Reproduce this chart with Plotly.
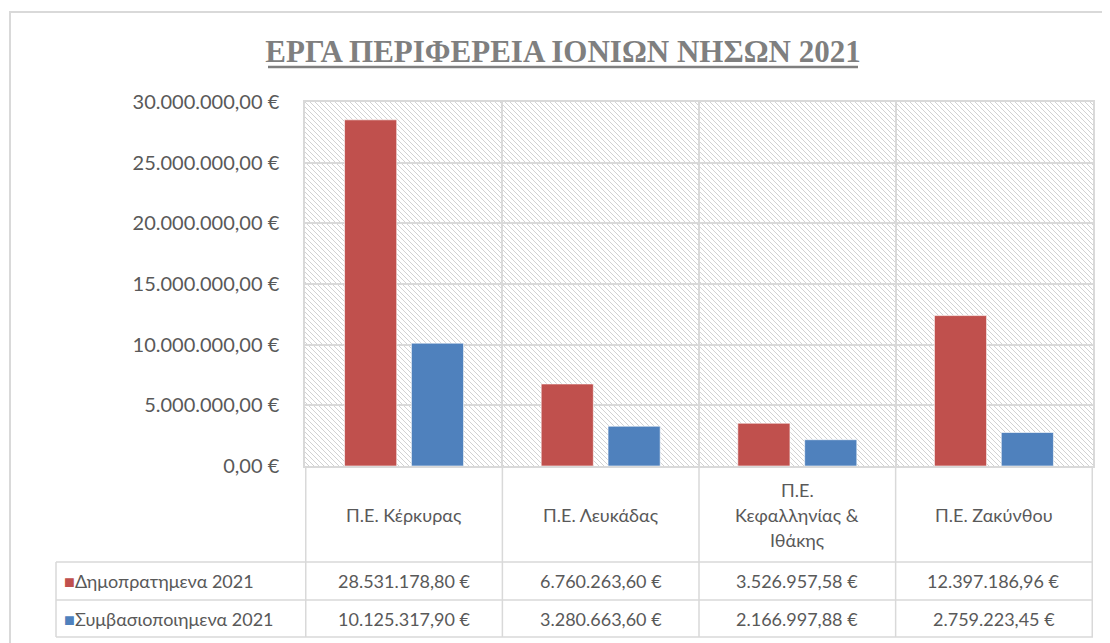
import base64

import plotly.graph_objects as go

categories = ["Π.Ε. Κέρκυρας", "Π.Ε. Λευκάδας", "Π.Ε. Κεφαλληνίας & Ιθάκης", "Π.Ε. Ζακύνθου"]
category_labels = ["Π.Ε. Κέρκυρας", "Π.Ε. Λευκάδας", "Π.Ε.<br>Κεφαλληνίας &<br>Ιθάκης", "Π.Ε. Ζακύνθου"]
series_names = ["Δημοπρατημενα 2021", "Συμβασιοποιημενα 2021"]
auctioned = [28531178.80, 6760263.60, 3526957.58, 12397186.96]
contracted = [10125317.90, 3280663.60, 2166997.88, 2759223.45]
series_colors = ["#C0504D", "#4F81BD"]

TITLE = "ΕΡΓΑ ΠΕΡΙΦΕΡΕΙΑ ΙΟΝΙΩΝ ΝΗΣΩΝ 2021"
W, H = 1110, 643
OFF = 8  # page body margin
PLOT_L, PLOT_R, PLOT_T, PLOT_B = 305 - OFF, 1093 - OFF, 102 - OFF, 466 - OFF
GRID = "#D9D9D9"
TEXT = "#595959"
FONT = "Lato"


def px_x(x):
    return (x - OFF - PLOT_L) / (PLOT_R - PLOT_L)


def px_y(y):
    return (PLOT_B - (y - OFF)) / (PLOT_B - PLOT_T)


def euro(v):
    s = f"{v:,.2f}".replace(",", "X").replace(".", ",").replace("X", ".")
    return s + " €"


# hatched plot background (Excel "light downward diagonal")
hatch_svg = (
    '<svg xmlns="http://www.w3.org/2000/svg" width="788" height="364">'
    '<defs><pattern id="h" patternUnits="userSpaceOnUse" width="5" height="5">'
    '<rect width="5" height="5" fill="#ffffff"/>'
    '<path d="M0,0 L5,5 M-1,4 L1,6 M4,-1 L6,1" stroke="#D2D2D2" stroke-width="1"/>'
    '</pattern></defs><rect width="788" height="364" fill="url(#h)"/></svg>'
)
hatch_uri = "data:image/svg+xml;base64," + base64.b64encode(hatch_svg.encode()).decode()

fig = go.Figure()
for name, vals, color in zip(series_names, [auctioned, contracted], series_colors):
    fig.add_trace(
        go.Bar(
            x=categories,
            y=vals,
            name=name,
            marker=dict(color=color, line=dict(color="rgba(255,255,255,0.6)", width=1)),
        )
    )

shapes = []
line = dict(color=GRID, width=1.5)
# outer chart border
shapes.append(dict(type="rect", xref="paper", yref="paper",
                   x0=px_x(10), x1=px_x(1130), y0=px_y(12), y1=px_y(660),
                   line=dict(color=GRID, width=2), layer="below"))
# title underline
shapes.append(dict(type="line", xref="paper", yref="paper",
                   x0=px_x(268), x1=px_x(858), y0=px_y(67), y1=px_y(67),
                   line=dict(color="#7F7F7F", width=2.5)))
# data table: vertical lines at category boundaries
for i in range(len(categories) + 1):
    shapes.append(dict(type="line", xref="x", yref="paper",
                       x0=i - 0.5, x1=i - 0.5, y0=px_y(466), y1=px_y(637), line=line))
# left border of legend column
shapes.append(dict(type="line", xref="paper", yref="paper",
                   x0=px_x(56), x1=px_x(56), y0=px_y(562), y1=px_y(637), line=line))
for yy in (562, 600, 637):
    shapes.append(dict(type="line", xref="paper", yref="paper",
                       x0=px_x(56), x1=px_x(1093), y0=px_y(yy), y1=px_y(yy), line=line))

annotations = []
cell_font = dict(family=FONT, size=18, color=TEXT)
# header row: category labels
for cat, lab in zip(categories, category_labels):
    parts = lab.split("<br>")
    n = len(parts)
    for j, part in enumerate(parts):
        annotations.append(dict(
            x=cat, xref="x", y=px_y(515), yref="paper", text=part, showarrow=False,
            xanchor="center", yanchor="middle",
            yshift=-(j - (n - 1) / 2) * 25, font=cell_font,
        ))
# value rows
row_y = [581, 618.5]
for name, vals, color, ry in zip(series_names, [auctioned, contracted], series_colors, row_y):
    annotations.append(dict(
        x=px_x(62), xref="paper", y=px_y(ry), yref="paper", xanchor="left", yanchor="middle",
        text=f'<span style="color:{color}">■</span>{name}', showarrow=False,
        font=cell_font,
    ))
    for cat, v in zip(categories, vals):
        annotations.append(dict(
            x=cat, xref="x", y=px_y(ry), yref="paper", text=euro(v), showarrow=False,
            xanchor="center", yanchor="middle", font=cell_font,
        ))

fig.update_layout(
    width=W,
    height=H,
    margin=dict(l=PLOT_L, r=W - PLOT_R, t=PLOT_T, b=H - PLOT_B),
    paper_bgcolor="white",
    plot_bgcolor="white",
    barmode="group",
    bargap=0.32,
    bargroupgap=0.22,
    showlegend=False,
    separators=",.",
    title=dict(
        text=f"<b>{TITLE}</b>",
        x=(563 - OFF) / W, xref="container", xanchor="center",
        y=1 - (51 - OFF) / H, yref="container", yanchor="middle",
        font=dict(family="Liberation Serif", size=31, color="#7F7F7F"),
    ),
    images=[dict(source=hatch_uri, xref="paper", yref="paper", x=0, y=1,
                 sizex=1, sizey=1, sizing="stretch", layer="below")],
    shapes=shapes,
    annotations=annotations,
)
fig.update_xaxes(showticklabels=False, tickson="boundaries", showgrid=True,
                 gridcolor=GRID, gridwidth=1.5, showline=True, linecolor=GRID,
                 linewidth=1.5, mirror=True, ticks="")
fig.update_yaxes(range=[0, 30000000], dtick=5000000, tickformat=",.2f", ticksuffix=" €",
                 showgrid=True, gridcolor=GRID, gridwidth=1.5, showline=True,
                 linecolor=GRID, linewidth=1.5, mirror=True, zeroline=False, ticks="",
                 ticklabelstandoff=20, tickfont=dict(family=FONT, size=20, color=TEXT))

fig.write_html("out.html")
